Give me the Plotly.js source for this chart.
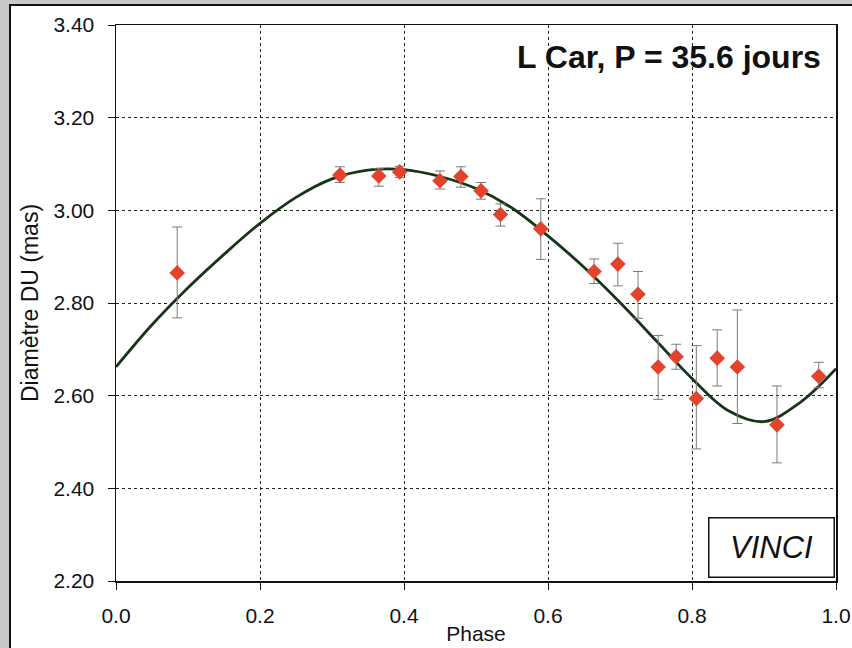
<!DOCTYPE html>
<html>
<head>
<meta charset="utf-8">
<script src="https://cdn.plot.ly/plotly-3.0.1.min.js"></script>
<style>
  html, body { margin: 0; padding: 0; background: #c8c8c8; width: 852px; height: 648px; overflow: hidden; }
  #frame { position: absolute; left: 9px; top: 4px; width: 870px; height: 680px; background: #ffffff; border: 2px solid #111; }
  #chart { position: absolute; left: 0; top: 0; width: 852px; height: 648px; }
</style>
</head>
<body>
<div id="frame"></div>
<div id="chart"></div>
<script>
// Observed VINCI angular diameters
const phaseObs = [0.085, 0.311, 0.365, 0.394, 0.450, 0.479, 0.507, 0.534, 0.590, 0.664, 0.697, 0.725, 0.753, 0.778, 0.806, 0.835, 0.863, 0.918, 0.976];
const diamObs  = [2.865, 3.076, 3.074, 3.083, 3.064, 3.073, 3.042, 2.991, 2.960, 2.868, 2.884, 2.819, 2.662, 2.684, 2.594, 2.681, 2.662, 2.537, 2.642];
const errPlus  = [0.099, 0.018, 0.016, 0.012, 0.021, 0.021, 0.018, 0.023, 0.065, 0.027, 0.045, 0.049, 0.068, 0.027, 0.114, 0.061, 0.123, 0.084, 0.030];
const errMinus = [0.097, 0.016, 0.022, 0.012, 0.018, 0.023, 0.018, 0.025, 0.066, 0.026, 0.047, 0.052, 0.070, 0.027, 0.109, 0.060, 0.122, 0.082, 0.025];

// Model curve (read at regular phase steps)
const phaseFit = [0, 0.05, 0.1, 0.15, 0.2, 0.25, 0.3, 0.35, 0.4, 0.45, 0.5, 0.55, 0.6, 0.65, 0.7, 0.75, 0.8, 0.85, 0.9, 0.95, 1.0];
const diamFit  = [2.662, 2.753, 2.833, 2.905, 2.972, 3.028, 3.068, 3.087, 3.088, 3.073, 3.047, 3.005, 2.945, 2.877, 2.801, 2.719, 2.637, 2.568, 2.544, 2.585, 2.658];

const yTicks = [2.2, 2.4, 2.6, 2.8, 3.0, 3.2, 3.4];
const yTickText = ["2.20", "2.40", "2.60", "2.80", "3.00", "3.20", "3.40"];
const xTicks = [0, 0.2, 0.4, 0.6, 0.8, 1.0];
const xTickText = ["0.0", "0.2", "0.4", "0.6", "0.8", "1.0"];

const titleText = "L Car, P = 35.6 jours";
const instrument = "VINCI";

const FONT = "Liberation Sans, Arial, Helvetica, sans-serif";

const traces = [
  {
    x: phaseFit, y: diamFit, type: "scatter", mode: "lines",
    line: { color: "#173517", width: 2.8, shape: "spline", smoothing: 1 },
    hoverinfo: "skip", showlegend: false
  },
  {
    x: phaseObs, y: diamObs, type: "scatter", mode: "markers",
    marker: { symbol: "diamond", size: 12, color: "#e2432a", line: { width: 0 } },
    error_y: { type: "data", symmetric: false, array: errPlus, arrayminus: errMinus,
               color: "#7a7a7a", thickness: 1, width: 5 },
    showlegend: false
  }
];

const gridStyle = { gridcolor: "#222", gridwidth: 1, griddash: "3px,3px" };

const layout = {
  width: 852, height: 648,
  margin: { l: 116, r: 16, t: 25, b: 67, pad: 0 },
  paper_bgcolor: "rgba(0,0,0,0)",
  plot_bgcolor: "#ffffff",
  font: { family: FONT, color: "#111", size: 16 },
  xaxis: Object.assign({
    range: [0, 1], tickvals: xTicks, ticktext: xTickText,
    ticks: "outside", ticklen: 7, tickwidth: 1, tickcolor: "#111",
    showline: true, linecolor: "#111", linewidth: 1.5, mirror: true,
    zeroline: false, showgrid: true,
    tickfont: { size: 21, family: FONT, color: "#111" },
    ticklabelstandoff: 8,
    title: { text: "Phase", font: { size: 21, family: FONT, color: "#111" }, standoff: 0 }
  }, gridStyle),
  yaxis: Object.assign({
    range: [2.2, 3.4], tickvals: yTicks, ticktext: yTickText,
    ticks: "outside", ticklen: 7, tickwidth: 1, tickcolor: "#111",
    showline: true, linecolor: "#111", linewidth: 1.5, mirror: true,
    zeroline: false, showgrid: true,
    tickfont: { size: 21, family: FONT, color: "#111" },
    ticklabelstandoff: 9,
    title: { text: "Diamètre DU (mas)", font: { size: 23, family: FONT, color: "#111" }, standoff: 8 }
  }, gridStyle),
  annotations: [
    {
      xref: "paper", yref: "paper", x: 0.982, y: 0.942, xanchor: "right", yanchor: "middle",
      text: "<b>" + titleText + "</b>", showarrow: false,
      font: { size: 32, family: FONT, color: "#111" }
    },
    {
      xref: "paper", yref: "paper", x: 0.999, y: 0.006, xanchor: "right", yanchor: "bottom",
      text: "<i>" + instrument + "</i>", showarrow: false,
      font: { size: 31, family: FONT, color: "#111" },
      bordercolor: "#111", borderwidth: 1.5, bgcolor: "#ffffff",
      width: 122, height: 56, align: "center", valign: "middle"
    }
  ]
};

Plotly.newPlot("chart", traces, layout, { displayModeBar: false, staticPlot: true });
</script>
</body>
</html>
